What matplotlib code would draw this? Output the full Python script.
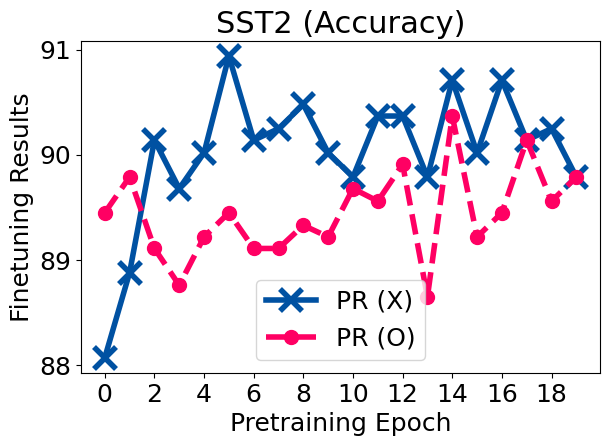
import matplotlib
matplotlib.use("Agg")
import matplotlib.pyplot as plt

epochs = list(range(20))
pr_x = [88.07, 88.88, 90.14, 89.68, 90.02, 90.94, 90.14, 90.25, 90.48, 90.02,
        89.79, 90.37, 90.37, 89.79, 90.71, 90.02, 90.71, 90.14, 90.25, 89.79]
pr_o = [89.45, 89.79, 89.11, 88.76, 89.22, 89.45, 89.11, 89.11, 89.33, 89.22,
        89.68, 89.56, 89.91, 88.65, 90.37, 89.22, 89.45, 90.14, 89.56, 89.79]
xticks = [0, 2, 4, 6, 8, 10, 12, 14, 16, 18]
yticks = [88, 89, 90, 91]

fig = plt.figure(figsize=(6.06, 4.46), dpi=100)
ax = fig.add_axes([0.134, 0.164, 0.856, 0.744])
ax.plot(epochs, pr_x, color='#0051a2', linewidth=4, marker='x', markersize=16,
        markeredgewidth=4, label='PR (X)')
ax.plot(epochs, pr_o, color='#ff0063', linewidth=4, linestyle='--', marker='o',
        markersize=10, label='PR (O)')
ax.set_xticks(xticks)
ax.set_yticks(yticks)
ax.tick_params(labelsize=18)
ax.set_xlabel('Pretraining Epoch', fontsize=18)
ax.set_ylabel('Finetuning Results', fontsize=18)
ax.set_title('SST2 (Accuracy)', fontsize=22)
ax.legend(loc='lower center', fontsize=18)
fig.savefig('out.png', dpi=100)
